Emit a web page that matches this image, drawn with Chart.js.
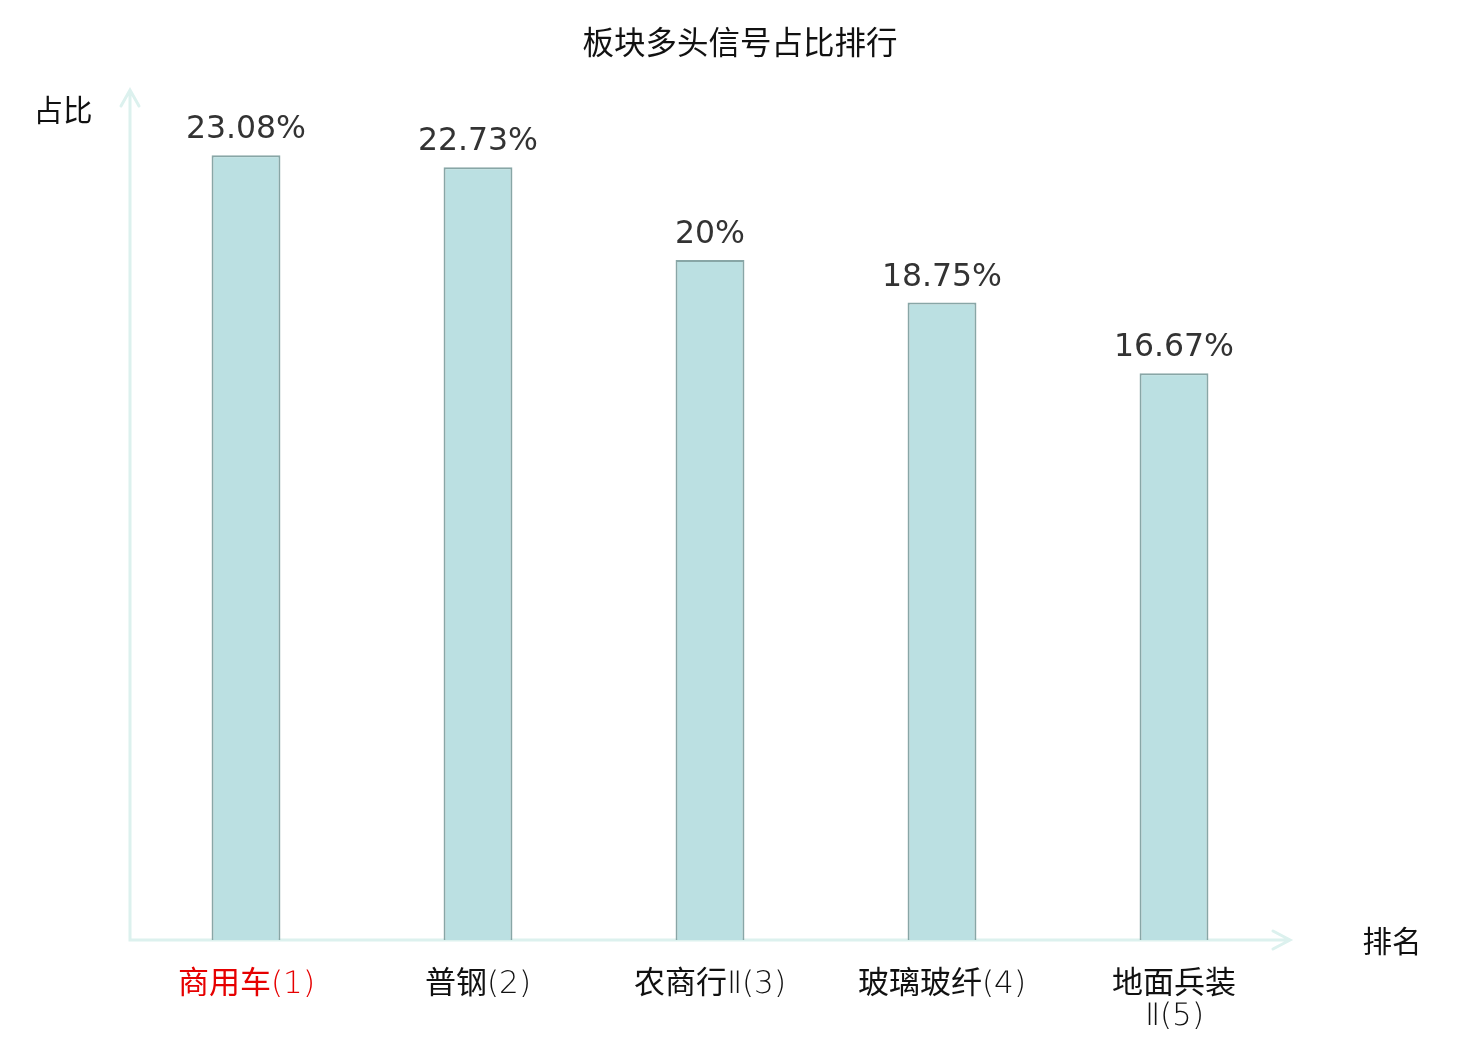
<!DOCTYPE html>
<html lang="zh">
<head>
    <meta charset="UTF-8">
    <title>板块多头信号占比排行</title>
    <style>
        /* thin latin + regular CJK for the category labels */
        @font-face {
            font-family: 'TickMix';
            src: local('DejaVu Sans ExtraLight'), local('DejaVuSans-ExtraLight');
            unicode-range: U+0000-024F, U+2160-216F;
        }
        @font-face {
            font-family: 'TickMix';
            src: local('Noto Sans CJK SC Regular'), local('NotoSansCJKsc-Regular'), local('Noto Sans CJK SC');
            unicode-range: U+2E80-9FFF, U+F900-FAFF, U+FF00-FFEF;
        }
        body { margin: 0; background: #fff; }
        #wrap { width: 1480px; height: 1040px; }
    </style>
</head>
<body>
    <div id="wrap"><canvas id="rankChart"></canvas></div>

    <script src="https://cdn.jsdelivr.net/npm/chart.js"></script>
    <script>
        // chart data
        const titleText = '板块多头信号占比排行';
        const sectors = [['商用车(1)'], ['普钢(2)'], ['农商行Ⅱ(3)'], ['玻璃玻纤(4)'], ['地面兵装', 'Ⅱ(5)']];
        const shares = [23.08, 22.73, 20, 18.75, 16.67];
        const shareLabels = ['23.08%', '22.73%', '20%', '18.75%', '16.67%'];

        const cjk = "'Noto Sans CJK SC', 'DejaVu Sans', sans-serif";
        const tickFamily = "TickMix, 'DejaVu Sans', 'Noto Sans CJK SC', sans-serif";
        const axisColor = '#dcf1ee';

        // title, arrows on both axes, axis names
        const axisArrows = {
            id: 'axisArrows',
            beforeDatasetsDraw(chart) {
                const { ctx, chartArea: a } = chart;
                ctx.save();
                ctx.strokeStyle = axisColor;
                ctx.lineWidth = 3;
                ctx.lineCap = 'round';
                ctx.beginPath();
                ctx.moveTo(a.left, a.top);
                ctx.lineTo(a.left, a.bottom);
                ctx.lineTo(a.right, a.bottom);
                ctx.moveTo(a.left - 9, a.top + 16);
                ctx.lineTo(a.left, a.top);
                ctx.lineTo(a.left + 9, a.top + 16);
                ctx.moveTo(a.right - 17, a.bottom - 9);
                ctx.lineTo(a.right, a.bottom);
                ctx.lineTo(a.right - 17, a.bottom + 9);
                ctx.stroke();

                ctx.fillStyle = '#111';
                ctx.textAlign = 'center';
                ctx.textBaseline = 'middle';
                ctx.font = '31.5px ' + cjk;
                ctx.fillText(titleText, chart.width / 2, 42);
                ctx.font = '29.5px ' + cjk;
                ctx.fillText('占比', 63, a.top + 20);
                ctx.fillText('排名', a.right + 102, a.bottom + 1);
                ctx.restore();
            }
        };

        // value labels above bars
        const valueLabels = {
            id: 'valueLabels',
            afterDatasetsDraw(chart) {
                const { ctx } = chart;
                const meta = chart.getDatasetMeta(0);
                ctx.save();
                ctx.fillStyle = '#333';
                ctx.font = "31.5px 'DejaVu Sans', sans-serif";
                ctx.textAlign = 'center';
                ctx.textBaseline = 'alphabetic';
                meta.data.forEach((bar, i) => {
                    ctx.fillText(shareLabels[i], bar.x, bar.y - 17);
                });
                ctx.restore();
            }
        };

        function draw() {
            new Chart(document.getElementById('rankChart'), {
                type: 'bar',
                data: {
                    labels: sectors,
                    datasets: [{
                        data: shares,
                        backgroundColor: '#bbe0e2',
                        borderColor: '#88a6a6',
                        borderWidth: 2,
                        barPercentage: 0.297,
                        categoryPercentage: 1
                    }]
                },
                options: {
                    responsive: true,
                    maintainAspectRatio: false,
                    animation: false,
                    layout: { padding: { left: 130, right: 190, top: 90, bottom: 0 } },
                    scales: {
                        y: { display: false, min: 0, max: 25 },
                        x: {
                            grid: { display: false },
                            border: { display: false },
                            ticks: {
                                padding: 21,
                                maxRotation: 0,
                                autoSkip: false,
                                font: { family: tickFamily, size: 31, lineHeight: 1.04 },
                                color: (c) => c.index === 0 ? '#e60000' : '#111'
                            },
                            afterFit(scale) { scale.height = 100; }
                        }
                    },
                    plugins: {
                        legend: { display: false },
                        tooltip: { enabled: false },
                        title: { display: false }
                    }
                },
                plugins: [axisArrows, valueLabels]
            });
        }

        // wait for the local label font before drawing
        Promise.all([
            document.fonts.load("31px TickMix", '商用车(1)Ⅱ')
        ]).then(draw, draw);
    </script>
</body>
</html>
